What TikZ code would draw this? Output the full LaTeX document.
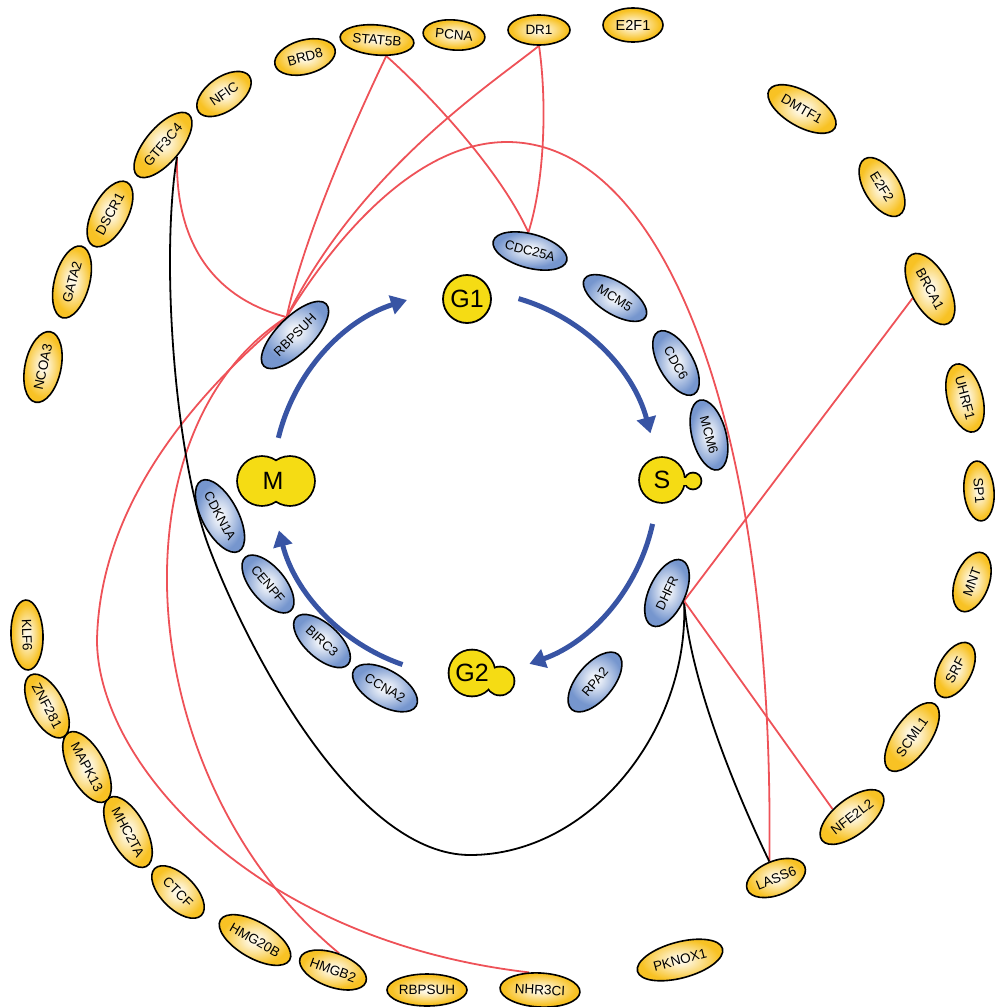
\documentclass[tikz,border=0pt]{standalone}
\usepackage{fontspec}
\setmainfont{Liberation Sans}
\usetikzlibrary{shapes.geometric,arrows.meta,backgrounds,calc}
\definecolor{goldc}{RGB}{248,194,36}
\definecolor{bluec}{RGB}{118,150,206}
\definecolor{phasec}{RGB}{245,220,20}
\definecolor{redc}{RGB}{238,82,88}
\definecolor{cycc}{RGB}{56,84,164}
\pgfdeclareradialshading{goldball}{\pgfpoint{0bp}{0bp}}{color(0bp)=(white!92!goldc); color(4bp)=(white!85!goldc); color(22bp)=(goldc); color(50bp)=(goldc)}
\pgfdeclareradialshading{blueball}{\pgfpoint{0bp}{0bp}}{color(0bp)=(white!95!bluec); color(4bp)=(white!85!bluec); color(22bp)=(bluec); color(50bp)=(bluec)}
\tikzset{
  gene/.style={ellipse, draw=black, line width=1.6pt, shade, shading=goldball, inner sep=0pt,
    minimum height=34pt, font=\fontsize{13.5}{14}\selectfont, text=black},
  bgene/.style={gene, shading=blueball, font=\fontsize{13}{14}\selectfont},
  phasetxt/.style={font=\fontsize{25}{27}\selectfont, inner sep=0pt},
  phaseline/.style={draw=black, line width=3.6pt},
  phasefill/.style={fill=phasec},
  redln/.style={draw=redc, line width=1.8pt},
  blkln/.style={draw=black, line width=1.8pt},
  cyc/.style={draw=cycc, line width=5pt, -{Triangle[length=16pt,width=19pt]}}
}
\begin{document}
\begin{tikzpicture}[x=1pt,y=-1pt]
\useasboundingbox (0,0) rectangle (994,1007);
% outer ring genes
\node[gene, minimum width=62pt, rotate=15] (brd8) at (305,57) {BRD8};
\node[gene, minimum width=74pt, minimum height=30pt, rotate=-5] (stat5b) at (377,40) {STAT5B};
\node[gene, minimum width=62pt, minimum height=30pt, rotate=-5] (pcna) at (454,35) {PCNA};
\node[gene, minimum width=62pt, minimum height=30pt] (dr1) at (539,30) {DR1};
\node[gene, minimum width=60pt, font=\fontsize{14.5}{15}\selectfont] (e2f1) at (633,25) {E2F1};
\node[gene, minimum width=62pt, rotate=35] (nfic) at (224,94) {NFIC};
\node[gene, minimum width=80pt, minimum height=35pt, rotate=50] (gtf3c4) at (163,145) {GTF3C4};
\node[gene, minimum width=72pt, minimum height=35pt, rotate=62] (dscr1) at (110,214) {DSCR1};
\node[gene, minimum width=74pt, minimum height=35pt, rotate=75] (gata2) at (72,282) {GATA2};
\node[gene, minimum width=72pt, minimum height=36pt, rotate=78] (ncoa3) at (43,367) {NCOA3};
\node[gene, minimum width=76pt, minimum height=35pt, rotate=-30] (dmtf1) at (802,109) {DMTF1};
\node[gene, minimum width=66pt, minimum height=35pt, rotate=-58] (e2f2) at (882,187) {E2F2};
\node[gene, minimum width=78pt, minimum height=38pt, rotate=-62] (brca1) at (930,289) {BRCA1};
\node[gene, minimum width=70pt, minimum height=35pt, rotate=-75] (uhrf1) at (965,398) {UHRF1};
\node[gene, minimum width=60pt, minimum height=30pt, rotate=-85] (sp1) at (979,491) {SP1};
\node[gene, minimum width=62pt, rotate=70] (mnt) at (972,582) {MNT};
\node[gene, minimum width=60pt, minimum height=33pt, rotate=62] (srf) at (955,670) {SRF};
\node[gene, minimum width=80pt, minimum height=36pt, rotate=55] (scml1) at (912,737) {SCML1};
\node[gene, minimum width=76pt, minimum height=36pt, rotate=38] (nfe2l2) at (852,817) {NFE2L2};
\node[gene, minimum width=62pt, rotate=22] (lass6) at (776,878) {LASS6};
\node[gene, minimum width=88pt, minimum height=36pt, rotate=15] (pknox1) at (680,960) {PKNOX1};
\node[gene, minimum width=80pt, rotate=-3] (nhr3ci) at (540,990) {NHR3CI};
\node[gene, minimum width=80pt, minimum height=32pt] (rbpsuhy) at (427,990) {RBPSUH};
\node[gene, minimum width=70pt, rotate=-20] (hmgb2) at (333,970) {HMGB2};
\node[gene, minimum width=80pt, minimum height=36pt, rotate=-30] (hmg20b) at (255,940) {HMG20B};
\node[gene, minimum width=66pt, rotate=-45] (ctcf) at (178,892) {CTCF};
\node[gene, minimum width=78pt, minimum height=36pt, rotate=-62] (mhc2ta) at (128,832) {MHC2TA};
\node[gene, minimum width=78pt, minimum height=36pt, rotate=-62] (mapk13) at (87,767) {MAPK13};
\node[gene, minimum width=70pt, rotate=-62] (znf281) at (47,706) {ZNF281};
\node[gene, minimum width=70pt, minimum height=32pt, rotate=-88] (klf6) at (27,635) {KLF6};
% inner ring genes
\node[bgene, minimum width=76pt, rotate=-15] (cdc25a) at (530,251) {CDC25A};
\node[bgene, minimum width=72pt, minimum height=32pt, rotate=-32] (mcm5) at (615,298) {MCM5};
\node[bgene, minimum width=72pt, rotate=-60] (cdc6) at (676,363) {CDC6};
\node[bgene, minimum width=72pt, rotate=-75] (mcm6) at (709,435) {MCM6};
\node[bgene, minimum width=72pt, minimum height=36pt, rotate=65] (dhfr) at (667,593) {DHFR};
\node[bgene, minimum width=72pt, minimum height=36pt, rotate=50] (rpa2) at (595,682) {RPA2};
\node[bgene, minimum width=72pt, minimum height=36pt, rotate=-30] (ccna2) at (385,688) {CCNA2};
\node[bgene, minimum width=70pt, rotate=-42] (birc3) at (322,641) {BIRC3};
\node[bgene, minimum width=70pt, rotate=-50] (cenpf) at (268,584) {CENPF};
\node[bgene, minimum width=80pt, minimum height=36pt, rotate=-62] (cdkn1a) at (220,516) {CDKN1A};
\node[bgene, minimum width=88pt, minimum height=36pt, rotate=45] (rbpsuh) at (295,335) {RBPSUH};
% phases
\node[phasetxt, circle, draw=black, line width=1.8pt, fill=phasec, minimum size=48pt] (g1) at (467,299) {G1};
\path[phaseline] (662,480) circle[radius=22];
\path[phaseline] (693,481) circle[radius=7.5];
\path[phaseline] (680,477.5) rectangle (690,484.5);
\path[phasefill] (662,480) circle[radius=22];
\path[phasefill] (693,481) circle[radius=7.5];
\path[phasefill] (680,477.5) rectangle (690,484.5);
\node[phasetxt] (s) at (662,480) {S};
\path[phaseline] (472,673) circle[radius=22.5];
\path[phaseline] (500,681) circle[radius=13.5];
\path[phasefill] (472,673) circle[radius=22.5];
\path[phasefill] (500,681) circle[radius=13.5];
\node[phasetxt] (g2) at (472,673) {G2};
\path[phaseline] (262,481) circle[radius=24];
\path[phaseline] (290,481) circle[radius=24];
\path[phasefill] (262,481) circle[radius=24];
\path[phasefill] (290,481) circle[radius=24];
\node[phasetxt] (m) at (273,481) {M};
% cycle arrows
\coordinate (cc) at (465,483);
\draw[cyc] ([shift={(193.6:192)}]cc) arc[start angle=193.6, end angle=252.4, radius=192];
\draw[cyc] ([shift={(286.2:192)}]cc) arc[start angle=286.2, end angle=345, radius=192];
\draw[cyc] ([shift={(12.3:192)}]cc) arc[start angle=12.3, end angle=70.4, radius=192];
\draw[cyc] ([shift={(109:192)}]cc) arc[start angle=109, end angle=165.7, radius=192];
% edges
\begin{scope}[on background layer]
\draw[redln] (gtf3c4.south) .. controls (175,250) and (220,300) .. (rbpsuh.70);
\draw[redln] (stat5b.-55) .. controls (365,100) and (305,230) .. (rbpsuh.70);
\draw[redln] (stat5b.-55) .. controls (430,95) and (500,170) .. (cdc25a.110);
\draw[redln] (dr1.south) .. controls (547,100) and (545,180) .. (cdc25a.110);
\draw[redln] (dr1.south) .. controls (490,85) and (360,170) .. (rbpsuh.70);
\draw[redln] (rbpsuh.70) .. controls (340,230) and (420,142) .. (507,142) .. controls (670,142) and (775,440) .. (lass6.north);
\draw[redln] (rbpsuh.70) .. controls (110,430) and (130,780) .. (hmgb2.north);
\draw[redln] (rbpsuh.70) .. controls (200,390) and (100,500) .. (97,640) .. controls (97,760) and (250,940) .. (nhr3ci.125);
\draw[blkln] (gtf3c4.south) .. controls (160,260) and (175,460) .. (210,550) .. controls (255,667) and (360,855) .. (470,855) .. controls (590,855) and (690,730) .. (dhfr.south);
\draw[blkln] (dhfr.south) .. controls (690,680) and (735,790) .. (lass6.north);
\draw[redln] (brca1.south) -- (dhfr.south);
\draw[redln] (dhfr.south) -- (nfe2l2.120);
\end{scope}
\end{tikzpicture}
\end{document}
